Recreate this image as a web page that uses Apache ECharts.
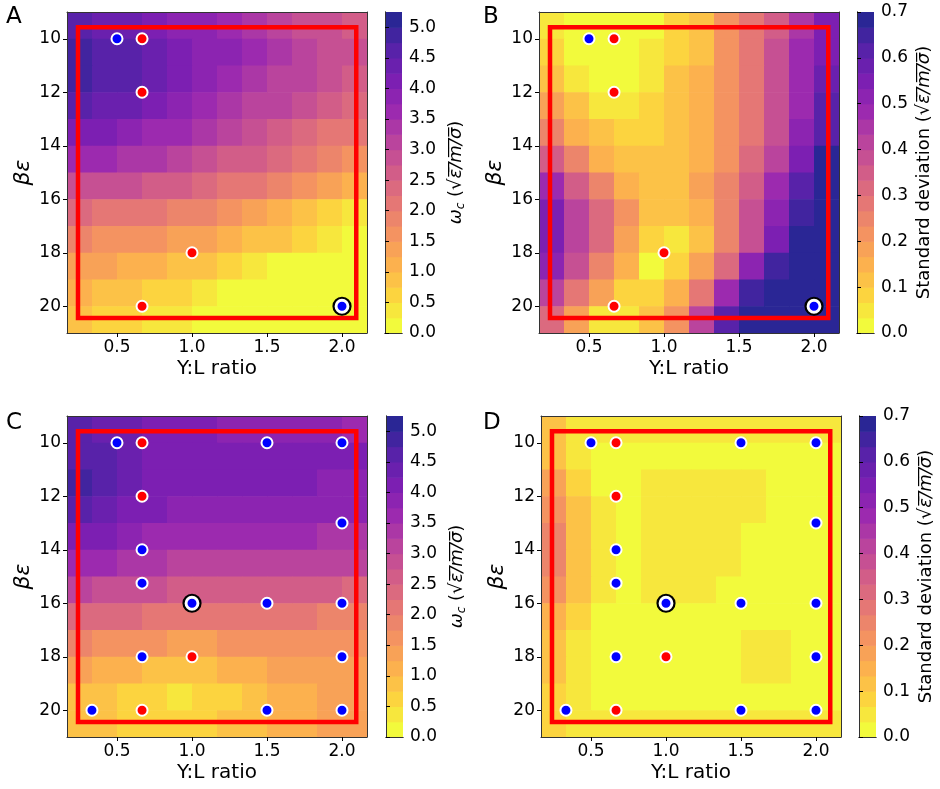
<!DOCTYPE html>
<html>
<head>
<meta charset="utf-8">
<script src="https://cdn.jsdelivr.net/npm/echarts@6.0.0/dist/echarts.min.js"></script>
<style>
  html, body { margin: 0; padding: 0; background: #fff; }
  #chart { width: 940px; height: 789px; }
</style>
</head>
<body>
<div id="chart"></div>
<script>
  // centres of the sampled cells (Y:L ratio, beta*eps)
  const cellX = [0.25, 0.4167, 0.5833, 0.75, 0.9167, 1.0833, 1.25, 1.4167, 1.5833, 1.75, 1.9167, 2.0833]
  const cellY = [9.5, 10.5, 11.5, 12.5, 13.5, 14.5, 15.5, 16.5, 17.5, 18.5, 19.5, 20.5]
  const cellW = 1 / 6
  const cellH = 1

  // A: omega_c, first round
  const omegaA = [
    [4.55, 4.45, 4.3, 4.15, 3.95, 3.75, 3.55, 3.35, 3.15, 2.95, 2.8, 2.7],
    [4.85, 4.7, 4.55, 4.35, 4.15, 3.95, 3.75, 3.5, 3.3, 3.1, 2.9, 2.8],
    [4.85, 4.7, 4.5, 4.3, 4.1, 3.9, 3.65, 3.45, 3.2, 3.0, 2.8, 2.7],
    [4.6, 4.45, 4.3, 4.1, 3.9, 3.7, 3.45, 3.2, 3.0, 2.75, 2.55, 2.45],
    [4.15, 4.05, 3.9, 3.7, 3.55, 3.35, 3.1, 2.9, 2.65, 2.4, 2.2, 2.05],
    [3.6, 3.5, 3.4, 3.25, 3.1, 2.9, 2.7, 2.5, 2.25, 2.0, 1.8, 1.65],
    [2.95, 2.85, 2.75, 2.65, 2.5, 2.35, 2.2, 2.0, 1.8, 1.55, 1.3, 1.15],
    [2.3, 2.2, 2.1, 2.0, 1.9, 1.75, 1.6, 1.4, 1.2, 0.95, 0.7, 0.45],
    [1.8, 1.7, 1.6, 1.5, 1.4, 1.25, 1.1, 0.95, 0.75, 0.5, 0.3, 0.2],
    [1.35, 1.3, 1.2, 1.1, 0.95, 0.8, 0.6, 0.4, 0.22, 0.15, 0.12, 0.1],
    [1.0, 0.95, 0.85, 0.7, 0.55, 0.38, 0.2, 0.12, 0.1, 0.1, 0.1, 0.1],
    [0.8, 0.72, 0.6, 0.45, 0.3, 0.18, 0.12, 0.1, 0.1, 0.1, 0.1, 0.1]
  ]
  // B: standard deviation, first round
  const stdB = [
    [0.06, 0.03, 0.02, 0.02, 0.03, 0.08, 0.13, 0.2, 0.27, 0.36, 0.46, 0.56],
    [0.07, 0.03, 0.02, 0.02, 0.04, 0.08, 0.13, 0.2, 0.28, 0.37, 0.47, 0.56],
    [0.12, 0.06, 0.03, 0.03, 0.06, 0.1, 0.14, 0.21, 0.29, 0.38, 0.48, 0.58],
    [0.18, 0.1, 0.05, 0.04, 0.07, 0.1, 0.14, 0.2, 0.28, 0.38, 0.49, 0.6],
    [0.26, 0.16, 0.1, 0.07, 0.08, 0.1, 0.14, 0.2, 0.28, 0.39, 0.51, 0.63],
    [0.36, 0.25, 0.16, 0.11, 0.1, 0.11, 0.15, 0.22, 0.31, 0.42, 0.55, 0.67],
    [0.47, 0.35, 0.24, 0.16, 0.12, 0.12, 0.17, 0.25, 0.35, 0.47, 0.6, 0.69],
    [0.55, 0.42, 0.3, 0.2, 0.13, 0.11, 0.16, 0.26, 0.38, 0.51, 0.64, 0.69],
    [0.56, 0.43, 0.3, 0.19, 0.09, 0.045, 0.12, 0.24, 0.39, 0.55, 0.68, 0.69],
    [0.5, 0.37, 0.25, 0.14, 0.03, 0.07, 0.17, 0.32, 0.5, 0.66, 0.69, 0.69],
    [0.4, 0.28, 0.17, 0.08, 0.07, 0.14, 0.28, 0.47, 0.65, 0.69, 0.69, 0.69],
    [0.3, 0.17, 0.06, 0.05, 0.1, 0.22, 0.42, 0.62, 0.69, 0.69, 0.69, 0.69]
  ]
  // C: omega_c, all rounds
  const omegaC = [
    [4.5, 4.4, 4.25, 4.15, 4.05, 4.0, 3.95, 3.9, 3.85, 3.8, 3.75, 3.7],
    [4.7, 4.55, 4.35, 4.2, 4.15, 4.1, 4.05, 4.05, 4.05, 4.05, 4.0, 4.0],
    [4.75, 4.55, 4.3, 4.15, 4.1, 4.05, 4.0, 4.0, 4.0, 4.0, 3.95, 3.95],
    [4.55, 4.35, 4.15, 4.0, 3.95, 3.9, 3.85, 3.85, 3.85, 3.8, 3.75, 3.75],
    [4.15, 4.0, 3.85, 3.7, 3.65, 3.6, 3.55, 3.55, 3.5, 3.5, 3.45, 3.45],
    [3.6, 3.5, 3.4, 3.3, 3.2, 3.15, 3.15, 3.1, 3.1, 3.05, 3.0, 3.0],
    [3.0, 2.9, 2.85, 2.75, 2.7, 2.65, 2.6, 2.6, 2.55, 2.5, 2.5, 2.45],
    [2.4, 2.3, 2.25, 2.15, 2.1, 2.05, 2.05, 2.0, 2.0, 2.0, 1.95, 1.95],
    [1.8, 1.7, 1.6, 1.5, 1.45, 1.45, 1.5, 1.55, 1.6, 1.6, 1.6, 1.6],
    [1.3, 1.15, 1.0, 0.9, 0.85, 0.9, 1.0, 1.15, 1.25, 1.35, 1.4, 1.45],
    [0.95, 0.75, 0.6, 0.5, 0.45, 0.55, 0.7, 0.85, 1.0, 1.15, 1.25, 1.35],
    [0.9, 0.75, 0.65, 0.6, 0.6, 0.65, 0.75, 0.9, 1.05, 1.15, 1.25, 1.35]
  ]
  // D: standard deviation, all rounds
  const stdD = [
    [0.1, 0.06, 0.045, 0.04, 0.04, 0.04, 0.04, 0.04, 0.04, 0.04, 0.045, 0.05],
    [0.12, 0.06, 0.03, 0.02, 0.02, 0.02, 0.02, 0.02, 0.02, 0.02, 0.02, 0.02],
    [0.17, 0.08, 0.03, 0.02, 0.04, 0.045, 0.045, 0.04, 0.035, 0.02, 0.02, 0.02],
    [0.22, 0.1, 0.04, 0.02, 0.04, 0.05, 0.05, 0.045, 0.035, 0.02, 0.02, 0.02],
    [0.25, 0.12, 0.05, 0.02, 0.04, 0.05, 0.05, 0.045, 0.03, 0.02, 0.02, 0.02],
    [0.24, 0.12, 0.05, 0.02, 0.04, 0.045, 0.045, 0.035, 0.02, 0.02, 0.02, 0.02],
    [0.2, 0.1, 0.04, 0.02, 0.035, 0.04, 0.035, 0.02, 0.02, 0.02, 0.02, 0.02],
    [0.16, 0.08, 0.03, 0.02, 0.02, 0.02, 0.02, 0.02, 0.02, 0.02, 0.02, 0.02],
    [0.13, 0.06, 0.03, 0.02, 0.02, 0.02, 0.02, 0.02, 0.04, 0.035, 0.02, 0.02],
    [0.1, 0.05, 0.02, 0.02, 0.02, 0.02, 0.02, 0.02, 0.045, 0.04, 0.02, 0.02],
    [0.08, 0.04, 0.02, 0.02, 0.02, 0.02, 0.02, 0.02, 0.02, 0.02, 0.02, 0.02],
    [0.07, 0.045, 0.04, 0.04, 0.04, 0.04, 0.04, 0.04, 0.04, 0.04, 0.04, 0.045]
  ]

  // contour levels
  const levelsOmega = [0, 0.25, 0.5, 0.75, 1.0, 1.25, 1.5, 1.75, 2.0, 2.25, 2.5, 2.75, 3.0, 3.25, 3.5, 3.75, 4.0, 4.25, 4.5, 4.75, 5.0, 5.25]
  const levelsStd = [0, 0.0333, 0.0667, 0.1, 0.1333, 0.1667, 0.2, 0.2333, 0.2667, 0.3, 0.3333, 0.3667, 0.4, 0.4333, 0.4667, 0.5, 0.5333, 0.5667, 0.6, 0.6333, 0.6667, 0.7]

  // tick labels
  const xTicks = [0.5, 1.0, 1.5, 2.0]
  const yTicks = [10, 12, 14, 16, 18, 20]
  const cbTicksOmega = [0, 0.5, 1.0, 1.5, 2.0, 2.5, 3.0, 3.5, 4.0, 4.5, 5.0]
  const cbTicksStd = [0, 0.1, 0.2, 0.3, 0.4, 0.5, 0.6, 0.7]

  // red search box
  const boxPts = [[0.24, 9.57], [2.095, 9.57], [2.095, 20.44], [0.24, 20.44], [0.24, 9.57]]

  // sampled points
  const blueAB = [[0.5, 10], [2.0, 20]]
  const redAB = [[0.667, 10], [0.667, 12], [1.0, 18], [0.667, 20]]
  const bestAB = [[2.0, 20]]
  const blueCD = [[0.5, 10], [1.5, 10], [2.0, 10], [2.0, 13], [0.667, 14], [0.667, 15.25], [1.0, 16], [1.5, 16],
    [2.0, 16], [0.667, 18], [2.0, 18], [0.333, 20], [1.5, 20], [2.0, 20]]
  const redCD = [[0.667, 10], [0.667, 12], [1.0, 18], [0.667, 20]]
  const bestCD = [[1.0, 16]]

  const FONT = 'DejaVu Sans'

  // plasma colormap (reversed), drawn a little transparent over white
  const plasmaStops = ['#0d0887', '#41049d', '#6a00a8', '#8f0da4', '#b12a90', '#cc4778',
    '#e16462', '#f2844b', '#fca636', '#fcce25', '#f0f921']
  function rgb(h) {
    return [parseInt(h.slice(1, 3), 16), parseInt(h.slice(3, 5), 16), parseInt(h.slice(5, 7), 16)]
  }
  function plasma(t) {
    const n = plasmaStops.length - 1
    const f = t * n
    const i = Math.min(Math.floor(f), n - 1)
    const u = f - i
    const a = rgb(plasmaStops[i]), b = rgb(plasmaStops[i + 1])
    return a.map((v, k) => v + (b[k] - v) * u)
  }
  function bandColor(i, nb) {
    const c = plasma(1 - i / (nb - 1))
    const alpha = 0.88
    const m = c.map(v => Math.round(v * alpha + 255 * (1 - alpha)))
    return 'rgb(' + m.join(',') + ')'
  }
  function pieces(levels) {
    const nb = levels.length - 1
    let out = []
    for (let i = 0; i < nb; i++) {
      let p = {gte: levels[i], color: bandColor(i, nb)}
      if (i < nb - 1) p.lt = levels[i + 1]
      else p.lte = levels[i + 1] + 1
      out.push(p)
    }
    return out
  }

  function fieldData(field) {
    let d = []
    for (let r = 0; r < cellY.length; r++) {
      for (let c = 0; c < cellX.length; c++) {
        d.push([cellX[c], cellY[r], field[r][c]])
      }
    }
    return d
  }
  function bandData(levels) {
    let d = []
    for (let i = 0; i < levels.length - 1; i++) {
      let mid = (levels[i] + levels[i + 1]) / 2
      d.push([0.5, mid, mid, levels[i], levels[i + 1]])
    }
    return d
  }

  function renderCell(params, api) {
    const c = api.coord([api.value(0), api.value(1)])
    const s = api.size([cellW, cellH])
    return {
      type: 'rect',
      shape: {x: c[0] - s[0] / 2, y: c[1] - s[1] / 2, width: s[0] + 0.6, height: s[1] + 0.6},
      style: {fill: api.visual('color')}
    }
  }
  function renderBand(params, api) {
    const p0 = api.coord([0, api.value(3)])
    const p1 = api.coord([1, api.value(4)])
    return {
      type: 'rect',
      shape: {
        x: Math.min(p0[0], p1[0]), y: Math.min(p0[1], p1[1]),
        width: Math.abs(p1[0] - p0[0]), height: Math.abs(p1[1] - p0[1]) + 0.6
      },
      style: {fill: api.visual('color')}
    }
  }

  const sqrtPart = '(\u221a{it|\u03b5\u0305/\u0305m\u0305/\u0305\u03c3\u0305})'
  const panels = [
    {label: 'A', field: omegaA, levels: levelsOmega, cbTicks: cbTicksOmega, blue: blueAB, red: redAB, best: bestAB,
      cbName: '{it|\u03c9}{sub|c} ' + sqrtPart, main: [67, 12], cb: [385, 12], lab: [6, 6]},
    {label: 'B', field: stdB, levels: levelsStd, cbTicks: cbTicksStd, blue: blueAB, red: redAB, best: bestAB,
      cbName: 'Standard deviation ' + sqrtPart, main: [539, 12], cb: [857, 12], lab: [483, 6]},
    {label: 'C', field: omegaC, levels: levelsOmega, cbTicks: cbTicksOmega, blue: blueCD, red: redCD, best: bestCD,
      cbName: '{it|\u03c9}{sub|c} ' + sqrtPart, main: [67, 416], cb: [386, 416], lab: [6, 412]},
    {label: 'D', field: stdD, levels: levelsStd, cbTicks: cbTicksStd, blue: blueCD, red: redCD, best: bestCD,
      cbName: 'Standard deviation ' + sqrtPart, main: [541, 416], cb: [859, 416], lab: [483, 412]}
  ]

  const tickStyle = {fontSize: 17, fontFamily: FONT, color: '#000'}
  const frameLine = {show: true, lineStyle: {color: '#333', width: 1}}
  let grids = [], xAxes = [], yAxes = [], series = [], graphics = []
  let omegaSeries = [], stdSeries = []

  function frameAxes(g, xr, yr, inverse) {
    // top and right edges of the frame
    xAxes.push({type: 'value', gridIndex: g, position: 'top', min: xr[0], max: xr[1], z: 5,
      axisLine: frameLine, axisTick: {show: false}, axisLabel: {show: false}, splitLine: {show: false}})
    yAxes.push({type: 'value', gridIndex: g, position: 'right', min: yr[0], max: yr[1], inverse: inverse, z: 5,
      axisLine: frameLine, axisTick: {show: false}, axisLabel: {show: false}, splitLine: {show: false}})
  }

  panels.forEach(function (p, k) {
    const gMain = grids.length
    grids.push({left: p.main[0], top: p.main[1], width: 300, height: 321, outerBoundsMode: 'none'})
    const xi = xAxes.length, yi = yAxes.length
    xAxes.push({
      type: 'value', gridIndex: gMain, min: 0.16667, max: 2.16667, z: 5,
      axisLine: frameLine,
      axisTick: {customValues: xTicks, length: 4, lineStyle: {color: '#000'}},
      axisLabel: {customValues: xTicks, formatter: v => v.toFixed(1), margin: 6, ...tickStyle},
      splitLine: {show: false},
      name: 'Y:L ratio', nameLocation: 'middle', nameGap: 26,
      nameTextStyle: {fontSize: 20, fontFamily: FONT, color: '#000'}
    })
    yAxes.push({
      type: 'value', gridIndex: gMain, min: 9, max: 21, inverse: true, z: 5,
      axisLine: frameLine,
      axisTick: {customValues: yTicks, length: 4, lineStyle: {color: '#000'}},
      axisLabel: {customValues: yTicks, margin: 6, ...tickStyle},
      splitLine: {show: false},
      name: '\u03b2\u03b5', nameLocation: 'middle', nameGap: 33, nameRotate: 90,
      nameTextStyle: {fontSize: 22, fontFamily: FONT, fontStyle: 'italic', color: '#000'}
    })
    frameAxes(gMain, [0.16667, 2.16667], [9, 21], true)

    const isOmega = p.levels === levelsOmega
    const fieldIdx = series.length
    series.push({
      type: 'custom', xAxisIndex: xi, yAxisIndex: yi, clip: true, z: 1,
      renderItem: renderCell, data: fieldData(p.field)
    })
    ;(isOmega ? omegaSeries : stdSeries).push(fieldIdx)
    series.push({
      type: 'line', xAxisIndex: xi, yAxisIndex: yi, data: boxPts, symbol: 'none', z: 3,
      lineStyle: {color: '#ff0000', width: 4.5, join: 'miter', cap: 'square'}
    })
    series.push({
      type: 'scatter', xAxisIndex: xi, yAxisIndex: yi, data: p.best, symbolSize: 17, z: 4,
      itemStyle: {color: '#ffffff', borderColor: '#000000', borderWidth: 2.2, opacity: 1}
    })
    series.push({
      type: 'scatter', xAxisIndex: xi, yAxisIndex: yi, data: p.blue, symbolSize: 11, z: 5,
      itemStyle: {color: '#0000ff', borderColor: '#ffffff', borderWidth: 2, opacity: 1}
    })
    series.push({
      type: 'scatter', xAxisIndex: xi, yAxisIndex: yi, data: p.red, symbolSize: 11, z: 5,
      itemStyle: {color: '#ff0000', borderColor: '#ffffff', borderWidth: 2, opacity: 1}
    })

    // colorbar
    const gCb = grids.length
    const top = p.levels[p.levels.length - 1]
    grids.push({left: p.cb[0], top: p.cb[1], width: 17, height: 321, outerBoundsMode: 'none'})
    const cxi = xAxes.length, cyi = yAxes.length
    xAxes.push({type: 'value', gridIndex: gCb, min: 0, max: 1, z: 5, axisLine: frameLine,
      axisTick: {show: false}, axisLabel: {show: false}, splitLine: {show: false}})
    yAxes.push({type: 'value', gridIndex: gCb, position: 'left', min: 0, max: top, z: 5, axisLine: frameLine,
      axisTick: {show: false}, axisLabel: {show: false}, splitLine: {show: false}})
    xAxes.push({type: 'value', gridIndex: gCb, position: 'top', min: 0, max: 1, z: 5, axisLine: frameLine,
      axisTick: {show: false}, axisLabel: {show: false}, splitLine: {show: false}})
    yAxes.push({
      type: 'value', gridIndex: gCb, position: 'right', min: 0, max: top, z: 5,
      axisLine: frameLine,
      axisTick: {customValues: p.cbTicks, length: 4, lineStyle: {color: '#000'}},
      axisLabel: {customValues: p.cbTicks, formatter: v => v.toFixed(1), margin: 7, ...tickStyle},
      splitLine: {show: false},
      name: p.cbName, nameLocation: 'middle', nameRotate: 90, nameGap: isOmega ? 43 : 39,
      nameTextStyle: {
        fontSize: 18, fontFamily: FONT, color: '#000', lineHeight: 22,
        rich: {
          it: {fontSize: 18, fontFamily: FONT, fontStyle: 'italic', color: '#000', lineHeight: 22},
          sub: {fontSize: 12, fontFamily: FONT, fontStyle: 'italic', color: '#000', lineHeight: 12, verticalAlign: 'bottom'}
        }
      }
    })
    const bandIdx = series.length
    series.push({
      type: 'custom', xAxisIndex: cxi, yAxisIndex: cyi + 1, clip: true, z: 1,
      renderItem: renderBand, data: bandData(p.levels)
    })
    ;(isOmega ? omegaSeries : stdSeries).push(bandIdx)

    graphics.push({
      type: 'text', left: p.lab[0], top: p.lab[1],
      style: {text: p.label, font: '23px "DejaVu Sans"', fill: '#000'}
    })
  })

  let myChart = echarts.init(document.getElementById('chart'), null, {renderer: 'canvas'})
  let option = {
    backgroundColor: '#ffffff',
    animation: false,
    grid: grids,
    xAxis: xAxes,
    yAxis: yAxes,
    visualMap: [
      {type: 'piecewise', show: false, dimension: 2, seriesIndex: omegaSeries, pieces: pieces(levelsOmega)},
      {type: 'piecewise', show: false, dimension: 2, seriesIndex: stdSeries, pieces: pieces(levelsStd)}
    ],
    graphic: graphics,
    series: series
  }
  myChart.setOption(option)
</script>
</body>
</html>
